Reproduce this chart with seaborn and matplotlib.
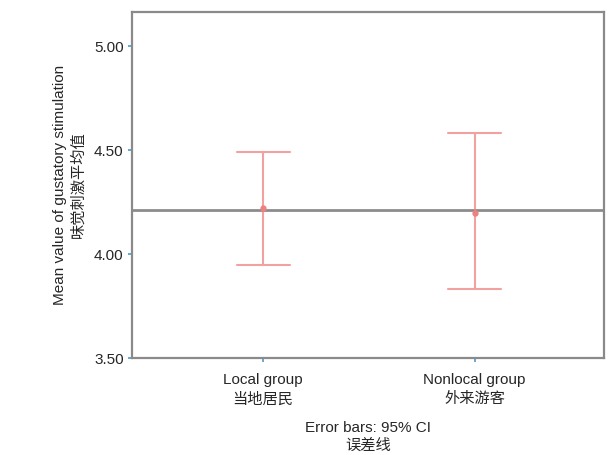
import numpy as np
import pandas as pd
import matplotlib
matplotlib.use("Agg")
import matplotlib.pyplot as plt
import seaborn as sns

# Group summaries: mean and 95% CI bounds of gustatory stimulation score
groups = ["Local group\n当地居民", "Nonlocal group\n外来游客"]
means = [4.22, 4.20]
ci_low = [3.95, 3.83]
ci_high = [4.49, 4.58]
grand_mean = 4.21
yticks = [3.50, 4.00, 4.50, 5.00]

sns.set_theme(style="white")
plt.rcParams["font.family"] = ["Liberation Sans", "Noto Sans CJK SC", "DejaVu Sans"]

# Long table: each group carries its lower bound, mean, upper bound
rows = []
for g, lo, m, hi in zip(groups, ci_low, means, ci_high):
    for v in (lo, m, hi):
        rows.append({"group": g, "value": v})
df = pd.DataFrame(rows)

fig, ax = plt.subplots(figsize=(6.11, 4.55), dpi=100)
fig.subplots_adjust(left=0.216, right=0.988, top=0.974, bottom=0.213)

ax.axhline(grand_mean, color="#8c8c8c", lw=2.0, zorder=1)

sns.pointplot(
    data=df, x="group", y="value",
    estimator=np.median,
    errorbar=lambda v: (v.min(), v.max()),
    linestyle="none", color="#f08080",
    capsize=0.25, err_kws={"linewidth": 1.5, "alpha": 0.75},
    markersize=2.5, ax=ax, zorder=3,
)

ax.set_xlim(-0.62, 1.61)
ax.set_ylim(3.5, 5.165)
ax.set_yticks(yticks)
ax.set_yticklabels([f"{t:.2f}" for t in yticks], fontsize=11)
for lbl in ax.get_xticklabels():
    lbl.set_fontsize(11)
    lbl.set_linespacing(1.45)
ax.tick_params(axis="both", which="major", length=3, width=1.3,
               color="#5aa0d0", direction="out", bottom=True, left=True)
ax.tick_params(axis="x", pad=8)
ax.tick_params(axis="y", pad=3)

for side in ["left", "bottom", "top", "right"]:
    ax.spines[side].set_color("#8a8a8a")
    ax.spines[side].set_linewidth(1.6)

ax.set_ylabel("Mean value of gustatory stimulation\n味觉刺激平均值", fontsize=11,
              labelpad=6, linespacing=1.4)
ax.set_xlabel("Error bars: 95% CI\n误差线", fontsize=11, labelpad=10,
              linespacing=1.35)

fig.savefig("out.png", dpi=100, facecolor="white")
